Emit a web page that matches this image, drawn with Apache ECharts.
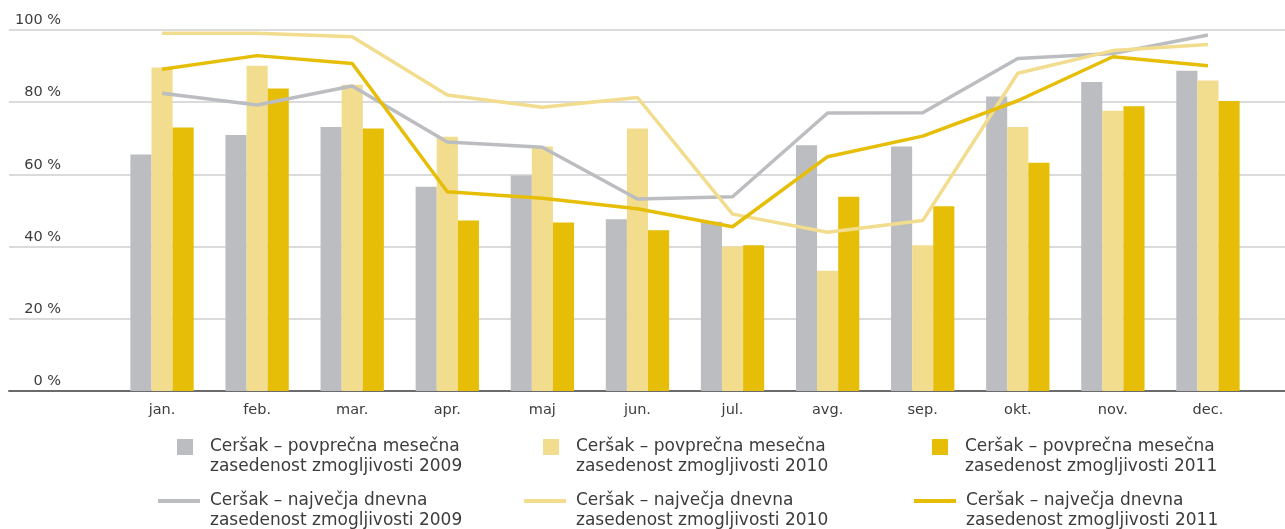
<!DOCTYPE html>
<html>
<head>
<meta charset="utf-8">
<script src="https://cdn.jsdelivr.net/npm/echarts@6/dist/echarts.min.js"></script>
<style>
  html, body { margin: 0; padding: 0; background: #fff; }
  #chart { width: 1285px; height: 529px; }
</style>
</head>
<body>
<div id="chart"></div>
<script>
// Months
const months = ['jan.', 'feb.', 'mar.', 'apr.', 'maj', 'jun.', 'jul.', 'avg.', 'sep.', 'okt.', 'nov.', 'dec.'];

// Average monthly capacity occupancy (%)
const avg2009 = [65.5, 70.9, 73.1, 56.6, 59.7, 47.6, 46.9, 68.1, 67.7, 81.6, 85.6, 88.7];
const avg2010 = [89.6, 90.1, 84.8, 70.4, 67.7, 72.7, 40.0, 33.3, 40.4, 73.1, 77.6, 86.0];
const avg2011 = [73.0, 83.8, 72.7, 47.2, 46.7, 44.5, 40.4, 53.8, 51.2, 63.2, 78.9, 80.3];

// Highest daily capacity occupancy (%)
const max2009 = [82.5, 79.2, 84.5, 69.0, 67.5, 53.2, 53.8, 77.0, 77.1, 92.1, 93.5, 98.6];
const max2010 = [99.1, 99.1, 98.1, 82.0, 78.6, 81.3, 49.0, 44.0, 47.2, 88.0, 94.3, 96.0];
const max2011 = [89.1, 92.9, 90.7, 55.2, 53.4, 50.5, 45.5, 64.9, 70.6, 80.4, 92.6, 90.1];

// Y axis ticks
const yMin = 0, yMax = 100, yStep = 20;

const names = {
  a09: 'Ceršak – povprečna mesečna\nzasedenost zmogljivosti 2009',
  a10: 'Ceršak – povprečna mesečna\nzasedenost zmogljivosti 2010',
  a11: 'Ceršak – povprečna mesečna\nzasedenost zmogljivosti 2011',
  m09: 'Ceršak – največja dnevna\nzasedenost zmogljivosti 2009',
  m10: 'Ceršak – največja dnevna\nzasedenost zmogljivosti 2010',
  m11: 'Ceršak – največja dnevna\nzasedenost zmogljivosti 2011'
};

const GRAY = '#bcbdc1';
const LIGHT = '#f2dc8e';
const GOLD = '#e6be07';
const TEXT = '#3c3c3c';
const FONT = 'DejaVu Sans';

// A blank leading line keeps the first text line level with the legend icon
const twoLineLabel = name => '\u00a0\n' + name;

function barLegend(name, left, top) {
  return {
    data: [name], left: left, top: top, padding: 0,
    icon: 'rect', itemWidth: 16, itemHeight: 16,
    selectedMode: false, formatter: twoLineLabel,
    textStyle: { fontFamily: FONT, fontSize: 17, lineHeight: 20, color: TEXT, padding: [0, 0, 0, 12] }
  };
}
function lineLegend(name, left, top) {
  return {
    data: [name], left: left, top: top, padding: 0,
    icon: 'rect', itemWidth: 42, itemHeight: 4,
    selectedMode: false, formatter: twoLineLabel,
    textStyle: { fontFamily: FONT, fontSize: 17, lineHeight: 20, color: TEXT, padding: [0, 0, 0, 5] }
  };
}

const chart = echarts.init(document.getElementById('chart'), null, { renderer: 'canvas' });

chart.setOption({
  animation: false,
  backgroundColor: '#fff',
  textStyle: { fontFamily: FONT },
  grid: [
    // full-width frame carrying the percentage gridlines and baseline
    { left: 9, right: 0, top: 30, bottom: 138 },
    // plotting area for the months
    { left: 114.5, right: 29.5, top: 30, bottom: 138 }
  ],
  xAxis: [
    {
      gridIndex: 0, type: 'value', min: 0, max: 1,
      axisLine: { show: true, onZero: false, lineStyle: { color: '#6b6b6b', width: 2 } },
      axisTick: { show: false }, axisLabel: { show: false }, splitLine: { show: false }
    },
    {
      gridIndex: 1, type: 'category', data: months,
      axisLine: { show: false }, axisTick: { show: false },
      axisLabel: { color: TEXT, fontSize: 14.5, fontFamily: FONT, margin: 12 }
    }
  ],
  yAxis: [
    {
      gridIndex: 0, type: 'value', min: yMin, max: yMax, interval: yStep,
      axisLine: { show: false }, axisTick: { show: false },
      axisLabel: {
        inside: true, margin: 52, align: 'right', verticalAlign: 'bottom',
        color: TEXT, fontSize: 14.5, fontFamily: FONT, padding: [0, 0, 2, 0],
        formatter: '{value} %'
      },
      splitLine: { show: true, lineStyle: { color: '#cfcfcf', width: 1.5 } }
    },
    {
      gridIndex: 1, type: 'value', min: yMin, max: yMax, interval: yStep, show: false
    }
  ],
  legend: [
    barLegend(names.a09, 177, 417),
    barLegend(names.a10, 543, 417),
    barLegend(names.a11, 932, 417),
    lineLegend(names.m09, 158, 471),
    lineLegend(names.m10, 524, 471),
    lineLegend(names.m11, 914, 471)
  ],
  series: [
    { name: names.a09, type: 'bar', xAxisIndex: 1, yAxisIndex: 1, data: avg2009,
      itemStyle: { color: GRAY }, barGap: '0%', barCategoryGap: '33.4%' },
    { name: names.a10, type: 'bar', xAxisIndex: 1, yAxisIndex: 1, data: avg2010,
      itemStyle: { color: LIGHT }, barGap: '0%', barCategoryGap: '33.4%' },
    { name: names.a11, type: 'bar', xAxisIndex: 1, yAxisIndex: 1, data: avg2011,
      itemStyle: { color: GOLD }, barGap: '0%', barCategoryGap: '33.4%' },
    { name: names.m09, type: 'line', xAxisIndex: 1, yAxisIndex: 1, data: max2009,
      symbol: 'none', lineStyle: { color: GRAY, width: 3.5 }, itemStyle: { color: GRAY }, z: 3 },
    { name: names.m10, type: 'line', xAxisIndex: 1, yAxisIndex: 1, data: max2010,
      symbol: 'none', lineStyle: { color: LIGHT, width: 3.5 }, itemStyle: { color: LIGHT }, z: 4 },
    { name: names.m11, type: 'line', xAxisIndex: 1, yAxisIndex: 1, data: max2011,
      symbol: 'none', lineStyle: { color: GOLD, width: 3.5 }, itemStyle: { color: GOLD }, z: 5 }
  ]
});
</script>
</body>
</html>
